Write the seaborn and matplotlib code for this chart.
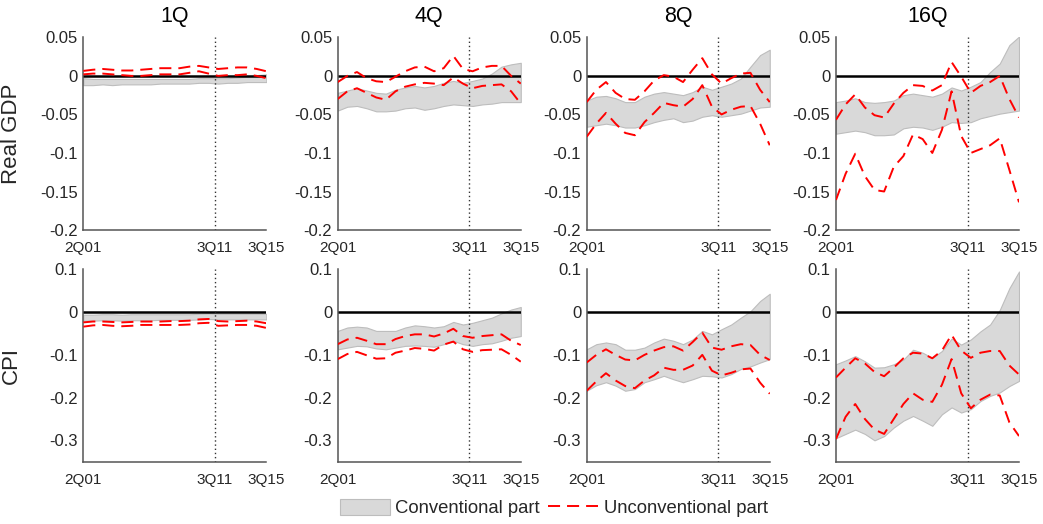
import numpy as np
import pandas as pd
import seaborn as sns
import matplotlib
matplotlib.use("Agg")
import matplotlib.pyplot as plt
from matplotlib.patches import Patch
from matplotlib.lines import Line2D

# ---------------- data ----------------
horizons = ["1Q", "4Q", "8Q", "16Q"]
variables = ["Real GDP", "CPI"]
# quarter index counted from 2Q01 (0) to 3Q15 (57)
qidx = [0, 3, 6, 9, 12, 15, 18, 21, 24, 27, 30, 33, 36, 39, 42, 45, 48, 51, 54, 57]
xtick_pos = [0, 41, 57]
xtick_labels = ["2Q01", "3Q11", "3Q15"]
qe_start = 41  # 3Q11

gdp_1q_conv_hi = [-0.003,-0.004,-0.004,-0.004,-0.004,-0.004,-0.004,-0.004,-0.004,-0.004,-0.004,-0.004,-0.003,-0.003,-0.003,-0.003,-0.002,-0.001,0.001,0.002]
gdp_1q_conv_lo = [-0.012,-0.012,-0.011,-0.012,-0.011,-0.011,-0.011,-0.011,-0.010,-0.010,-0.010,-0.010,-0.009,-0.009,-0.010,-0.009,-0.009,-0.008,-0.008,-0.008]
gdp_1q_unc_hi = [0.0065,0.008,0.009,0.008,0.007,0.007,0.008,0.009,0.010,0.010,0.010,0.012,0.013,0.011,0.009,0.010,0.011,0.011,0.009,0.006]
gdp_1q_unc_lo = [0.002,0.003,0.003,0.002,0.001,0.000,0.000,0.001,0.002,0.002,0.002,0.004,0.006,0.003,0.000,0.001,0.001,0.002,0.000,-0.003]

gdp_4q_conv_hi = [-0.022,-0.019,-0.016,-0.019,-0.022,-0.023,-0.018,-0.015,-0.013,-0.015,-0.013,-0.009,-0.0065,-0.009,-0.0065,-0.0035,0.003,0.012,0.015,0.017]
gdp_4q_conv_lo = [-0.045,-0.040,-0.039,-0.042,-0.046,-0.046,-0.045,-0.042,-0.041,-0.044,-0.042,-0.039,-0.037,-0.038,-0.039,-0.037,-0.036,-0.034,-0.034,-0.034]
gdp_4q_unc_hi = [-0.008,0.000,0.005,-0.003,-0.007,-0.008,-0.001,0.006,0.011,0.012,0.006,0.010,0.026,0.009,0.006,0.011,0.013,0.013,0.000,-0.010]
gdp_4q_unc_lo = [-0.030,-0.020,-0.016,-0.022,-0.028,-0.031,-0.020,-0.014,-0.011,-0.009,-0.010,-0.012,-0.002,-0.010,-0.016,-0.013,-0.012,-0.011,-0.020,-0.036]

gdp_8q_conv_hi = [-0.032,-0.027,-0.026,-0.029,-0.034,-0.034,-0.027,-0.023,-0.021,-0.023,-0.025,-0.021,-0.014,-0.018,-0.014,-0.010,-0.0035,0.012,0.027,0.034]
gdp_8q_conv_lo = [-0.066,-0.064,-0.062,-0.064,-0.067,-0.067,-0.064,-0.060,-0.057,-0.055,-0.060,-0.058,-0.053,-0.051,-0.053,-0.051,-0.049,-0.045,-0.041,-0.040]
gdp_8q_unc_hi = [-0.034,-0.018,-0.008,-0.022,-0.030,-0.031,-0.020,-0.006,0.001,-0.001,-0.008,0.008,0.023,0.002,-0.010,-0.003,0.003,0.004,-0.018,-0.034]
gdp_8q_unc_lo = [-0.079,-0.062,-0.048,-0.062,-0.074,-0.077,-0.060,-0.048,-0.035,-0.038,-0.040,-0.030,-0.012,-0.040,-0.050,-0.044,-0.040,-0.039,-0.062,-0.090]

gdp_16q_conv_hi = [-0.034,-0.032,-0.029,-0.034,-0.035,-0.034,-0.032,-0.025,-0.023,-0.025,-0.027,-0.023,-0.015,-0.019,-0.014,-0.008,0.005,0.016,0.040,0.051]
gdp_16q_conv_lo = [-0.075,-0.073,-0.071,-0.073,-0.077,-0.077,-0.076,-0.068,-0.066,-0.067,-0.070,-0.066,-0.060,-0.061,-0.060,-0.055,-0.052,-0.049,-0.047,-0.045]
gdp_16q_unc_hi = [-0.057,-0.037,-0.024,-0.041,-0.051,-0.054,-0.036,-0.022,-0.012,-0.013,-0.019,-0.012,0.018,-0.001,-0.022,-0.013,-0.008,0.000,-0.030,-0.054]
gdp_16q_unc_lo = [-0.161,-0.127,-0.101,-0.130,-0.148,-0.150,-0.118,-0.104,-0.076,-0.082,-0.100,-0.070,-0.020,-0.078,-0.100,-0.095,-0.090,-0.081,-0.122,-0.164]

cpi_1q_conv_hi = [-0.006,-0.006,-0.005,-0.005,-0.006,-0.005,-0.005,-0.005,-0.005,-0.005,-0.005,-0.005,-0.004,-0.003,-0.004,-0.004,-0.004,-0.004,-0.004,-0.004]
cpi_1q_conv_lo = [-0.020,-0.020,-0.019,-0.019,-0.020,-0.019,-0.019,-0.019,-0.018,-0.018,-0.018,-0.018,-0.017,-0.016,-0.017,-0.017,-0.017,-0.017,-0.017,-0.017]
cpi_1q_unc_hi = [-0.024,-0.022,-0.022,-0.023,-0.024,-0.023,-0.022,-0.022,-0.022,-0.021,-0.021,-0.020,-0.017,-0.016,-0.021,-0.022,-0.021,-0.020,-0.022,-0.026]
cpi_1q_unc_lo = [-0.034,-0.031,-0.030,-0.032,-0.033,-0.032,-0.030,-0.030,-0.030,-0.030,-0.030,-0.029,-0.026,-0.025,-0.032,-0.031,-0.030,-0.030,-0.032,-0.037]

cpi_4q_conv_hi = [-0.044,-0.036,-0.034,-0.036,-0.044,-0.044,-0.044,-0.036,-0.031,-0.033,-0.036,-0.033,-0.023,-0.029,-0.025,-0.019,-0.013,-0.003,0.006,0.012]
cpi_4q_conv_lo = [-0.087,-0.083,-0.079,-0.080,-0.085,-0.087,-0.083,-0.079,-0.078,-0.079,-0.081,-0.075,-0.067,-0.075,-0.079,-0.075,-0.073,-0.067,-0.060,-0.056]
cpi_4q_unc_hi = [-0.075,-0.064,-0.060,-0.067,-0.075,-0.075,-0.063,-0.056,-0.052,-0.052,-0.057,-0.050,-0.039,-0.056,-0.060,-0.056,-0.054,-0.052,-0.067,-0.077]
cpi_4q_unc_lo = [-0.110,-0.098,-0.093,-0.101,-0.109,-0.108,-0.095,-0.090,-0.084,-0.086,-0.090,-0.076,-0.069,-0.087,-0.093,-0.089,-0.088,-0.087,-0.100,-0.116]

cpi_8q_conv_hi = [-0.087,-0.075,-0.071,-0.075,-0.088,-0.088,-0.083,-0.071,-0.062,-0.067,-0.075,-0.064,-0.044,-0.052,-0.040,-0.029,-0.013,0.002,0.026,0.043]
cpi_8q_conv_lo = [-0.184,-0.171,-0.164,-0.172,-0.184,-0.180,-0.164,-0.157,-0.149,-0.157,-0.164,-0.157,-0.149,-0.150,-0.153,-0.145,-0.133,-0.127,-0.118,-0.110]
cpi_8q_unc_hi = [-0.118,-0.100,-0.087,-0.100,-0.111,-0.113,-0.100,-0.090,-0.082,-0.080,-0.090,-0.070,-0.048,-0.083,-0.088,-0.080,-0.075,-0.077,-0.100,-0.112]
cpi_8q_unc_lo = [-0.184,-0.162,-0.143,-0.160,-0.173,-0.178,-0.160,-0.148,-0.130,-0.135,-0.135,-0.125,-0.100,-0.137,-0.148,-0.142,-0.134,-0.132,-0.165,-0.191]

cpi_16q_conv_hi = [-0.122,-0.113,-0.103,-0.115,-0.130,-0.129,-0.122,-0.111,-0.088,-0.095,-0.107,-0.091,-0.062,-0.076,-0.064,-0.045,-0.029,0.005,0.056,0.095]
cpi_16q_conv_lo = [-0.295,-0.285,-0.275,-0.285,-0.300,-0.290,-0.270,-0.254,-0.243,-0.254,-0.266,-0.239,-0.223,-0.235,-0.227,-0.208,-0.196,-0.188,-0.173,-0.161]
cpi_16q_unc_hi = [-0.153,-0.130,-0.108,-0.120,-0.140,-0.150,-0.130,-0.108,-0.095,-0.097,-0.108,-0.090,-0.053,-0.090,-0.107,-0.095,-0.091,-0.091,-0.125,-0.146]
cpi_16q_unc_lo = [-0.297,-0.245,-0.215,-0.250,-0.275,-0.285,-0.250,-0.215,-0.190,-0.205,-0.210,-0.170,-0.110,-0.190,-0.225,-0.205,-0.193,-0.195,-0.258,-0.290]

panels = {
    ("Real GDP", "1Q"): (gdp_1q_conv_lo, gdp_1q_conv_hi, gdp_1q_unc_lo, gdp_1q_unc_hi),
    ("Real GDP", "4Q"): (gdp_4q_conv_lo, gdp_4q_conv_hi, gdp_4q_unc_lo, gdp_4q_unc_hi),
    ("Real GDP", "8Q"): (gdp_8q_conv_lo, gdp_8q_conv_hi, gdp_8q_unc_lo, gdp_8q_unc_hi),
    ("Real GDP", "16Q"): (gdp_16q_conv_lo, gdp_16q_conv_hi, gdp_16q_unc_lo, gdp_16q_unc_hi),
    ("CPI", "1Q"): (cpi_1q_conv_lo, cpi_1q_conv_hi, cpi_1q_unc_lo, cpi_1q_unc_hi),
    ("CPI", "4Q"): (cpi_4q_conv_lo, cpi_4q_conv_hi, cpi_4q_unc_lo, cpi_4q_unc_hi),
    ("CPI", "8Q"): (cpi_8q_conv_lo, cpi_8q_conv_hi, cpi_8q_unc_lo, cpi_8q_unc_hi),
    ("CPI", "16Q"): (cpi_16q_conv_lo, cpi_16q_conv_hi, cpi_16q_unc_lo, cpi_16q_unc_hi),
}

gdp_yticks = [-0.2, -0.15, -0.1, -0.05, 0, 0.05]
gdp_yticklabels = ["-0.2", "-0.15", "-0.1", "-0.05", "0", "0.05"]
cpi_yticks = [-0.3, -0.2, -0.1, 0, 0.1]
cpi_yticklabels = ["-0.3", "-0.2", "-0.1", "0", "0.1"]
ylims = {"Real GDP": (-0.2, 0.05), "CPI": (-0.35, 0.1)}

# ---------------- style ----------------
sns.set_style("white")
plt.rcParams["font.family"] = ["Liberation Sans", "DejaVu Sans"]
TXT = "#262626"
SPINE = "#555555"
BAND_FC = "#d9d9d9"
BAND_EC = "#bdbdbd"
RED_DASH = (0, (6.2, 3.6))

fig = plt.figure(figsize=(10.43, 5.24), dpi=100)
lefts = [0.0799, 0.3238, 0.5625, 0.8015]
width = 0.1755
rows = {"Real GDP": (0.561, 0.3677), "CPI": (0.1189, 0.367)}

for var in variables:
    bottom, height = rows[var]
    for j, h in enumerate(horizons):
        ax = fig.add_axes([lefts[j], bottom, width, height])
        lo, hi, ulo, uhi = panels[(var, h)]
        ax.fill_between(qidx, lo, hi, facecolor=BAND_FC, edgecolor=BAND_EC,
                        linewidth=0.8, zorder=1)
        ax.axhline(0, color="black", lw=1.8, zorder=2)
        ax.axvline(qe_start, color="#333333", lw=1.0, ls=(0, (1, 2)), zorder=2)
        for ser in (uhi, ulo):
            sns.lineplot(x=qidx, y=ser, ax=ax, color="red", lw=1.4,
                         linestyle=RED_DASH, zorder=3)
        ax.set_xlim(0, 57)
        ax.set_ylim(*ylims[var])
        ax.set_xticks(xtick_pos)
        ax.set_xticklabels(xtick_labels)
        if var == "Real GDP":
            ax.set_yticks(gdp_yticks)
            ax.set_yticklabels(gdp_yticklabels)
        else:
            ax.set_yticks(cpi_yticks)
            ax.set_yticklabels(cpi_yticklabels)
        ax.tick_params(axis="both", direction="in", length=3, width=0.8,
                       color=SPINE, labelcolor=TXT)
        ax.tick_params(axis="x", pad=8, labelsize=11)
        ax.tick_params(axis="y", pad=4, labelsize=12)
        for s in ("top", "right"):
            ax.spines[s].set_visible(False)
        for s in ("left", "bottom"):
            ax.spines[s].set_color(SPINE)
            ax.spines[s].set_linewidth(1.1)
        ax.set_xlabel("")
        if var == "Real GDP":
            ax.set_title(h, fontsize=15.5, color="black", pad=11)
        if j == 0:
            ax.set_ylabel(var, fontsize=16, color=TXT)
            ax.yaxis.set_label_coords(-0.335, 0.5)
        else:
            ax.set_ylabel("")

handles = [Patch(facecolor=BAND_FC, edgecolor=BAND_EC, linewidth=0.8),
           Line2D([], [], color="red", lw=1.4, linestyle=RED_DASH)]
fig.legend(handles, ["Conventional part", "Unconventional part"],
           loc="center", bbox_to_anchor=(0.531, 0.0305), ncol=2, frameon=False,
           fontsize=13.3, handlelength=2.7, handleheight=1.0,
           handletextpad=0.3, columnspacing=0.45, labelcolor=TXT)

fig.savefig("out.png", dpi=100)
